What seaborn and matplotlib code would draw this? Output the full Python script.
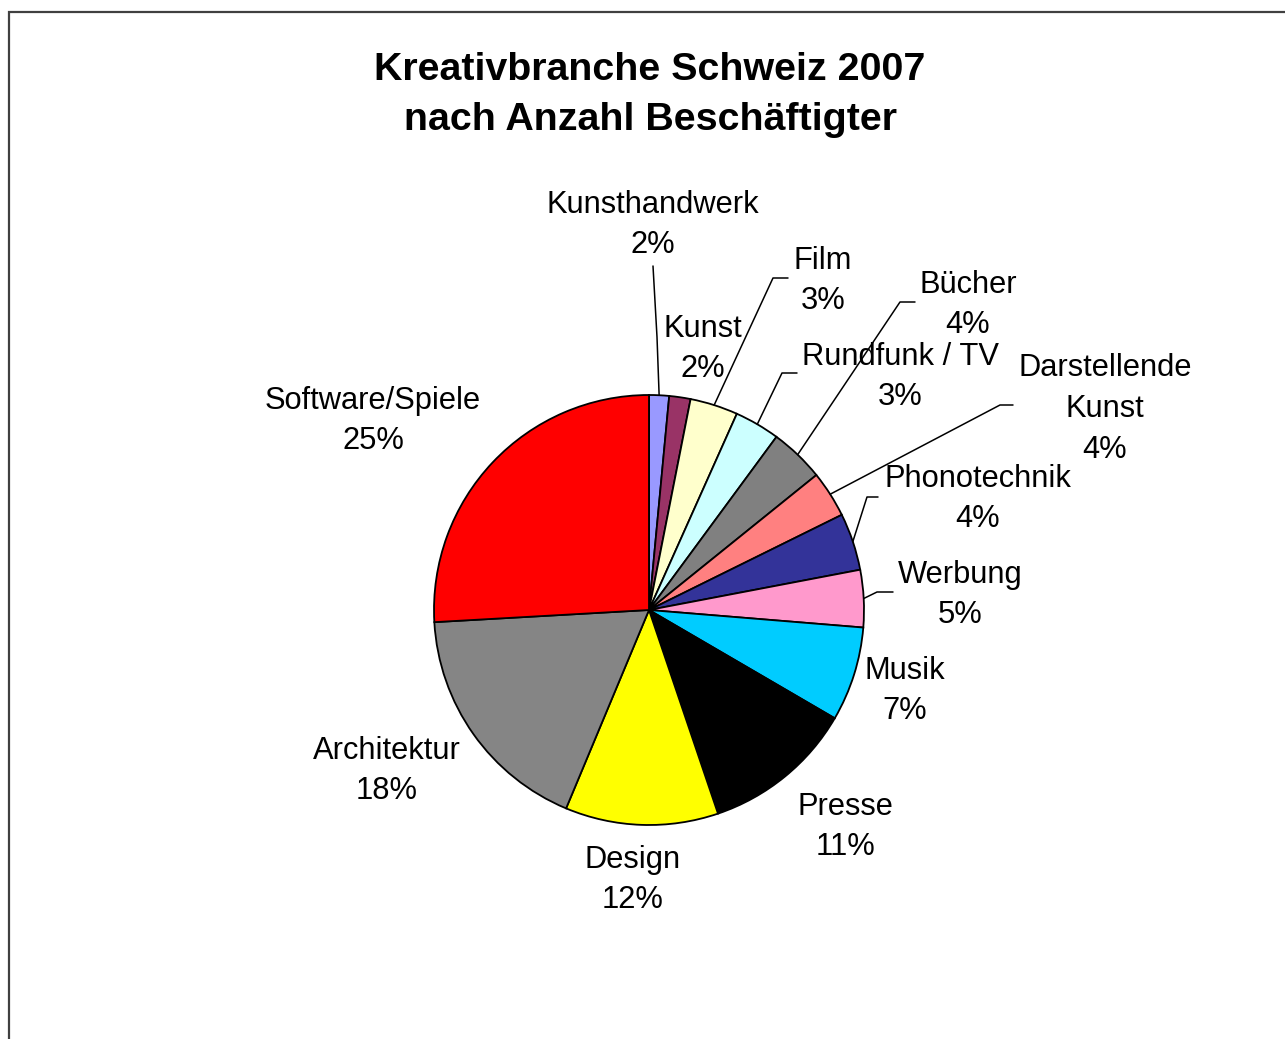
import numpy as np
import matplotlib
matplotlib.use("Agg")
from matplotlib import pyplot as plt
from matplotlib.patches import Rectangle
import seaborn as sns

# Data (clockwise from 12 o'clock)
branches = ["Kunsthandwerk", "Kunst", "Film", "Rundfunk / TV", "Bücher",
            "Darstellende\nKunst", "Phonotechnik", "Werbung", "Musik",
            "Presse", "Design", "Architektur", "Software/Spiele"]
shares = [1.5, 1.6, 3.6, 3.4, 4.1, 3.5, 4.3, 4.3, 7.1, 11.4, 11.5, 17.8, 25.9]
pct_labels = ["2%", "2%", "3%", "3%", "4%", "4%", "4%", "5%", "7%",
              "11%", "12%", "18%", "25%"]
colors = ["#9999FF", "#993366", "#FFFFCC", "#CCFFFF", "#808080", "#FF8080",
          "#333399", "#FF99CC", "#00CCFF", "#000000", "#FFFF00", "#858585",
          "#FF0000"]

# Layout (pixels in the 1285x1039 picture)
W, H = 1285, 1039
cx, cy, r = 649, 610, 215
label_px = [(653, 225), (703, 349), (823, 281), (900, 377), (968, 305),
            (1105, 409), (978, 499), (960, 595), (905, 691), (845, 827),
            (633, 880), (387, 771), (373, 421)]
leader_px = [[(657, 337), (653, 266)], None, [(773, 278), (788, 278)],
             [(782, 373), (797, 373)], [(900, 302), (915, 302)],
             [(1000, 405), (1013, 405)], [(867, 497), (878, 497)],
             [(877, 592), (893, 592)], None, None, None, None, None]

sns.set_style("white")
plt.rcParams["font.family"] = ["Liberation Sans", "DejaVu Sans"]

fig = plt.figure(figsize=(W / 100, H / 100), dpi=100)
fig.patch.set_facecolor("white")

# chart area border (runs off right and bottom edges)
fig.patches.append(Rectangle((9 / W, -0.05), 1.1, (H - 12) / H + 0.05,
                             transform=fig.transFigure, fill=False,
                             edgecolor="#404040", linewidth=1.6))

fig.text(650 / W, 1 - 95 / H, "Kreativbranche Schweiz 2007\nnach Anzahl Beschäftigter",
         ha="center", va="center", fontsize=28.4, fontweight="bold",
         color="black", linespacing=1.5)

ax = fig.add_axes([(cx - r) / W, (H - cy - r) / H, 2 * r / W, 2 * r / H])
wedges, _ = ax.pie(shares, colors=sns.color_palette(colors), startangle=90,
                   counterclock=False, radius=1,
                   wedgeprops=dict(edgecolor="black", linewidth=1.3))
ax.set_xlim(-1, 1)
ax.set_ylim(-1, 1)
ax.set_aspect("equal")
ax.axis("off")


def to_data(p):
    return (p[0] - cx) / r, (cy - p[1]) / r


for w, name, pct, lp, ld in zip(wedges, branches, pct_labels, label_px, leader_px):
    lx, ly = to_data(lp)
    ax.text(lx, ly, name + "\n" + pct, ha="center", va="center",
            fontsize=22.2, color="black", linespacing=1.47, clip_on=False)
    if ld is not None:
        mid = np.deg2rad((w.theta1 + w.theta2) / 2)
        pts = [(np.cos(mid), np.sin(mid))] + [to_data(p) for p in ld]
        xs, ys = zip(*pts)
        ax.plot(xs, ys, color="black", linewidth=1.1, clip_on=False)

fig.savefig("out.png", dpi=100, facecolor="white")
